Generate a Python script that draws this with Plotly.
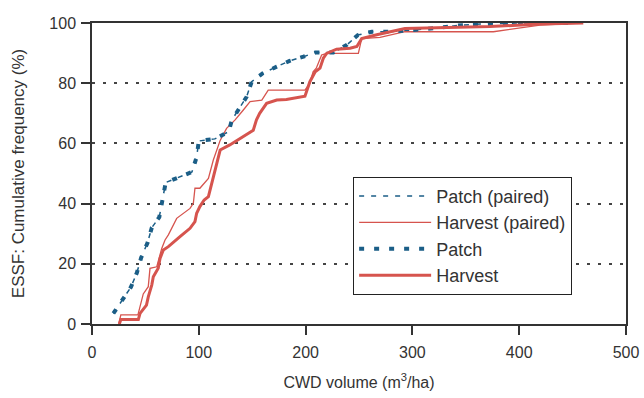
import plotly.graph_objects as go

# Patch (same sampling for paired and unpaired)
patch_x = [20, 28, 36.5, 42, 46, 52, 56, 63, 65.5, 69, 79.6, 93.6, 98, 100, 115, 128, 131, 138.6,
           144.8, 149.5, 160, 173, 185, 198, 209, 226, 238.5, 249, 262, 277, 293, 308.7, 325,
           340, 356, 372, 400, 455]
patch_y = [3.5, 7.6, 12.3, 17, 22, 27, 32, 35.5, 40.5, 47, 48.5, 50.5, 55.5, 60.8, 61.5, 63.9,
           67.8, 72.2, 75.5, 80.5, 83.3, 85.5, 87.4, 88.8, 90.2, 90.2, 92.7, 96, 97.1, 97.1,
           97.4, 97.9, 98.4, 99.1, 99.5, 99.8, 100, 100]

patch_paired_x = patch_x
patch_paired_y = patch_y

harvest_x = [25.6, 27, 43.4, 45, 51, 52.7, 56, 57.4, 62, 63.7, 66.8, 71.5, 82.4, 91.8, 96.4, 98,
             101, 105, 109, 112, 115, 120, 129, 141.7, 151, 154, 157, 163.5, 173, 182, 199.4,
             204, 209, 213.5, 216.6, 219.7, 229, 241.6, 248, 252.5, 266.6, 293, 372.7, 419.5, 460]
harvest_y = [0, 1.5, 1.5, 3.5, 6.3, 9, 13, 15.7, 18.5, 21.8, 24.6, 25.7, 29, 31.8, 34, 36.8,
             39, 41.2, 42.3, 46.7, 51, 57.8, 59.5, 62.2, 64.4, 67.8, 70, 73.3, 74.4, 74.6, 75.7,
             80.5, 83.8, 85, 88.3, 89.9, 91.3, 91.6, 92.2, 94.8, 96.1, 98.2, 98.8, 99.7, 100]

harvest_paired_x = [25, 27, 43, 48, 52.7, 54.3, 60.6, 65.3, 68.4, 71.5, 79.3, 91.8, 94.9, 96.4,
                    101, 109, 113.6, 118.3, 120, 126, 134, 141.7, 148, 159, 165, 176, 199.4, 204,
                    207, 210, 215, 219.7, 249.4, 252.5, 269.7, 293, 375.8, 419.5, 457]
harvest_paired_y = [0, 3, 3, 10, 12.4, 18.5, 19, 25.1, 27.9, 29.6, 35.1, 38.4, 40.1, 45.1, 45.1,
                    48.4, 54.5, 58.9, 61, 65, 67.8, 71.1, 73.9, 74.4, 77.7, 77.7, 77.7, 80, 83.8,
                    85, 89.4, 89.9, 89.9, 94.8, 95.2, 97.1, 97.1, 99.3, 100]

x_ticks = [0, 100, 200, 300, 400, 500]
y_ticks = [0, 20, 40, 60, 80, 100]

BLUE = "#1b5e87"
RED = "#d6544e"
FONT = "Arial, Liberation Sans, sans-serif"

fig = go.Figure()
fig.add_trace(go.Scatter(x=patch_paired_x, y=patch_paired_y, mode="lines", name="Patch (paired)",
                         line=dict(color=BLUE, width=1.5, dash="5px,7px")))
fig.add_trace(go.Scatter(x=harvest_paired_x, y=harvest_paired_y, mode="lines", name="Harvest (paired)",
                         line=dict(color=RED, width=1.3)))
fig.add_trace(go.Scatter(x=patch_x, y=patch_y, mode="lines", name="Patch",
                         line=dict(color=BLUE, width=4, dash="5px,10px")))
fig.add_trace(go.Scatter(x=harvest_x, y=harvest_y, mode="lines", name="Harvest",
                         line=dict(color=RED, width=3)))

fig.update_layout(
    template="none",
    width=644, height=398,
    margin=dict(l=92, r=18, t=23, b=74, autoexpand=False),
    paper_bgcolor="white", plot_bgcolor="white",
    font=dict(family=FONT, size=16, color="#333333"),
    showlegend=True,
    legend=dict(x=0.489, y=0.489, xanchor="left", yanchor="top",
                bordercolor="#222222", borderwidth=1, bgcolor="white",
                font=dict(size=18, color="#333333"), itemwidth=72,
                tracegroupgap=0),
    xaxis=dict(range=[0, 500], tickvals=x_ticks, showgrid=False, zeroline=False,
               automargin=False,
               showline=True, linecolor="#333333", linewidth=1.5, mirror=True,
               ticks="outside", ticklen=9, tickcolor="#333333", tickwidth=1.5,
               ticklabelstandoff=4,
               title=dict(text="CWD volume (m<sup>3</sup>/ha)", font=dict(size=16), standoff=17),
               tickfont=dict(size=16)),
    yaxis=dict(range=[0, 100], tickvals=y_ticks, showgrid=True, gridcolor="#444444",
               griddash="3px,8px", gridwidth=1.5, zeroline=False, automargin=False,
               showline=True, linecolor="#333333", linewidth=1.5, mirror=True,
               ticks="outside", ticklen=9, tickcolor="#333333", tickwidth=1.5,
               ticklabelstandoff=2,
               title=dict(text="ESSF: Cumulative frequency (%)", font=dict(size=17), standoff=20),
               tickfont=dict(size=16)),
)

fig.write_html("out.html")
